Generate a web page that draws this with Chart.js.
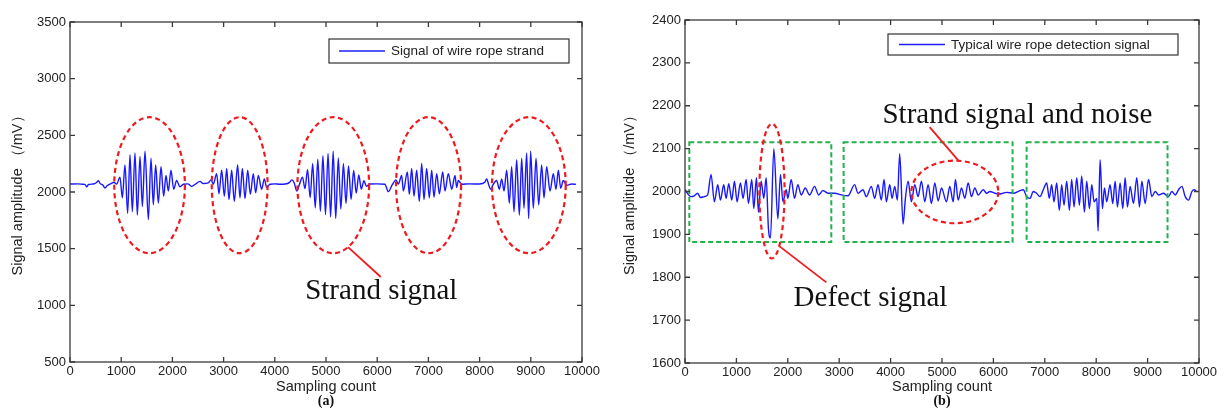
<!DOCTYPE html>
<html><head><meta charset="utf-8">
<script src="https://cdn.jsdelivr.net/npm/chart.js@4.4.1/dist/chart.umd.min.js"></script>
<style>
html,body{margin:0;padding:0;background:#fff;}
#wrap{position:relative;width:1224px;height:408px;overflow:hidden;background:#fff;}
#ca{position:absolute;left:0;top:0;}
#cb{position:absolute;left:612px;top:0;}
</style></head><body>
<div id="wrap">
<canvas id="ca" width="612" height="408"></canvas>
<canvas id="cb" width="612" height="408"></canvas>
</div>
<script>
// ---------- data ----------
const xTicks = [0,1000,2000,3000,4000,5000,6000,7000,8000,9000,10000];
const aTicks = [500,1000,1500,2000,2500,3000,3500];
const bTicks = [1600,1700,1800,1900,2000,2100,2200,2300,2400];
const aLabel = 'Signal of wire rope strand';
const bLabel = 'Typical wire rope detection signal';
const xTitle = 'Sampling count';
const yTitle = 'Signal amplitude （/mV）';

const aSamples = [0,150,250,300,326,360,450,520,553,590,640,683,730,800,860,910,
 977,1022,1074,1126,1172,1217,1269,1315,1367,1413,1465,1530,1582,1627,1673,1725,1777,1829,1875,1920,1972,2025,2083,2148,2213,
 2300,2373,2450,2539,2600,2700,2755,2800,
 2864,2910,2962,3014,3060,3105,3157,3209,3274,3320,3366,3418,3470,3522,3580,3626,3678,3743,3795,3841,3906,
 4000,4100,4200,4290,4330,4380,4427,4480,
 4540,4590,4640,4690,4740,4790,4840,4890,4940,4990,5040,5090,5140,5190,5240,5290,5340,5390,5440,5490,5540,5590,5640,5690,5740,5790,
 5850,6000,6150,6218,6290,6367,6413,
 6478,6511,6589,6628,6673,6719,6771,6823,6869,6914,6966,7018,7064,7109,7162,7214,7279,7324,7389,7455,7520,7552,7585,7650,
 7800,8000,8100,8138,8180,8216,8260,
 8333,8385,8431,8477,8529,8581,8626,8672,8724,8776,8822,8867,8919,8958,8997,9049,9102,9154,9212,9258,9310,9375,9440,9492,9538,9583,9635,9700,
 9800,9880];
const aValues = [2070,2072,2068,2064,2045,2066,2070,2084,2100,2074,2062,2035,2058,2074,2086,2070,
 2131,1948,2238,1811,2329,1826,2345,1796,2314,1872,2360,1756,2299,1887,2238,1902,2223,1963,2146,2009,2192,2024,2101,2046,2068,
 2072,2050,2070,2094,2075,2080,2107,2070,
 2162,1985,2192,1963,2207,1933,2192,1918,2238,1948,2207,1942,2192,1979,2162,1994,2146,2024,2116,2040,2068,
 2072,2068,2070,2085,2107,2080,2009,2065,
 2131,2030,2200,1950,2250,1860,2290,1830,2320,1800,2340,1780,2360,1765,2300,1850,2250,1900,2230,1935,2190,1990,2150,2025,2100,2050,
 2070,2072,2068,2003,2060,2107,2070,
 2146,2009,2177,1979,2207,1963,2192,1918,2253,1933,2207,1948,2192,1954,2162,1985,2177,2009,2162,2024,2146,2040,2101,2068,
 2072,2070,2085,2116,2060,2024,2062,
 2101,2024,2116,2009,2192,1902,2223,1826,2284,1796,2299,1857,2345,1765,2360,1857,2299,1887,2238,1948,2223,2009,2162,2024,2192,2033,2101,2060,
 2070,2068];

const bSamples = [0,117,180,247,300,377,440,507,572,637,689,754,799,851,910,962,1013,1078,1130,1189,1234,1299,1338,1390,1429,1481,1533,1579,
 1624,1663,1728,1806,1858,1904,1969,2001,2066,2131,2196,2261,2339,2423,2521,2599,2683,2781,2911,3041,3171,
 3300,3365,3463,3528,3625,3690,3755,3820,3872,3918,3983,4028,4080,4132,4177,4243,4288,4340,4405,4470,4535,4600,4665,4730,4795,4860,4925,4990,
 5087,5152,5217,5262,5314,5379,5444,5509,5574,5639,5704,5802,5867,5932,6029,6126,6256,6386,6516,6581,6646,6711,6776,6841,6906,6971,
 7036,7088,7133,7179,7231,7283,7328,7374,7426,7478,7523,7569,7621,7673,7718,7770,7816,7868,7913,7959,8011,8037,8076,8121,8160,8205,
 8270,8322,8368,8413,8465,8517,8563,8608,8660,8725,8790,8842,8888,8953,9018,9083,9148,9213,9310,9407,9472,9537,9602,9667,9732,9797,9862,9908,9947];
const bValues = [2004,1988,1990,1996,1986,1988,1992,2040,1976,2016,1980,2016,1984,2018,1980,2024,1976,2020,1984,2028,1972,2028,1960,2032,1952,2024,1984,2032,
 1912,1892,2100,1936,2040,1976,2004,1984,2028,1984,2016,1992,2008,1992,2012,1992,2002,1996,1996,1992,1990,
 2016,1996,2004,1988,2012,1984,2016,1980,2028,1976,2016,1984,2012,1980,2088,1924,1984,2024,1976,2016,1988,2024,1976,2016,1972,2020,1978,2008,
 1976,2012,1976,2028,1980,2008,1984,2020,1988,2008,1992,2004,1996,2000,1996,1994,1998,1996,2002,2004,1988,1984,2000,1996,1988,2004,
 2020,1984,2016,1976,2020,1956,2016,1968,2024,1956,2028,1964,2032,1968,2036,1952,2024,1960,2016,1976,1984,1908,2074,1960,2008,1976,
 2016,1972,2024,1964,2020,1960,2032,1964,2012,1972,2032,1964,2024,1972,2028,1988,2000,1992,1996,1988,2000,1992,2004,2012,1988,1980,2000,2004,2000];

// annotations (data coordinates)
const aEllipseX = [1554,3314,5142,7003,8962];
const aEllipseRX = [690,545,700,635,720];
const aEllipseY = 2060, aEllipseRY = 600;
const aPointer = [[5430,1513],[6070,1250]];
const aNote = {text:'Strand signal', x:6080, y:1120};

const bBoxes = [[84,2846],[3086,6373],[6646,9388]];
const bBoxY = [1882,2115];
const bEllipses = [[1692,2001,245,157],[5250,1999,845,73]];
const bPointers = [[[1840,1872],[2750,1788]],[[4760,2150],[5320,2072]]];
const bNotes = [{text:'Defect signal', x:3609, y:1750},{text:'Strand signal and noise', x:6467, y:2177}];

// ---------- drawing helpers ----------
function deco(cfg){
  return {
    id:'deco',
    afterDatasetsDraw(chart){
      const {ctx, chartArea:ca, scales:{x,y}} = chart;
      ctx.save();
      ctx.lineCap='butt';
      if (cfg.boxes){
        ctx.strokeStyle='#22b04a'; ctx.lineWidth=2; ctx.setLineDash([5,3]);
        cfg.boxes.forEach(b=>{
          const x0=x.getPixelForValue(b[0]), x1=x.getPixelForValue(b[1]);
          const y0=y.getPixelForValue(cfg.boxY[1]), y1=y.getPixelForValue(cfg.boxY[0]);
          ctx.strokeRect(x0,y0,x1-x0,y1-y0);
        });
      }
      ctx.strokeStyle='#f01a1e'; ctx.lineWidth=2.2; ctx.setLineDash([5,3.5]);
      cfg.ellipses.forEach(e=>{
        const px=x.getPixelForValue(e[0]), py=y.getPixelForValue(e[1]);
        const rx=Math.abs(x.getPixelForValue(e[0]+e[2])-px), ry=Math.abs(y.getPixelForValue(e[1]+e[3])-py);
        ctx.beginPath(); ctx.ellipse(px,py,rx,ry,0,0,Math.PI*2); ctx.stroke();
      });
      ctx.setLineDash([]); ctx.lineWidth=1.8;
      cfg.pointers.forEach(p=>{
        ctx.beginPath();
        ctx.moveTo(x.getPixelForValue(p[0][0]), y.getPixelForValue(p[0][1]));
        ctx.lineTo(x.getPixelForValue(p[1][0]), y.getPixelForValue(p[1][1]));
        ctx.stroke();
      });
      ctx.fillStyle='#111'; ctx.font='29px "Liberation Serif", "Times New Roman", serif';
      ctx.textAlign='center'; ctx.textBaseline='middle';
      cfg.notes.forEach(n=>ctx.fillText(n.text, x.getPixelForValue(n.x), y.getPixelForValue(n.y)));
      // frame
      ctx.strokeStyle='#3a3a3a'; ctx.lineWidth=1.3;
      ctx.strokeRect(ca.left, ca.top, ca.right-ca.left, ca.bottom-ca.top);
      ctx.beginPath();
      x.ticks.forEach(t=>{const p=x.getPixelForValue(t.value);
        ctx.moveTo(p,ca.bottom); ctx.lineTo(p,ca.bottom-5); ctx.moveTo(p,ca.top); ctx.lineTo(p,ca.top+5);});
      y.ticks.forEach(t=>{const p=y.getPixelForValue(t.value);
        ctx.moveTo(ca.left,p); ctx.lineTo(ca.left+5,p); ctx.moveTo(ca.right,p); ctx.lineTo(ca.right-5,p);});
      ctx.stroke();
      // legend
      const L=cfg.legend;
      ctx.fillStyle='#fff'; ctx.fillRect(L.x0,L.y0,L.x1-L.x0,L.y1-L.y0);
      ctx.strokeStyle='#333'; ctx.lineWidth=1.2; ctx.strokeRect(L.x0,L.y0,L.x1-L.x0,L.y1-L.y0);
      const ly=(L.y0+L.y1)/2;
      ctx.strokeStyle='#1e1eff'; ctx.lineWidth=1.3; ctx.beginPath(); ctx.moveTo(L.lx0,ly); ctx.lineTo(L.lx1,ly); ctx.stroke();
      ctx.fillStyle='#222'; ctx.font='13.5px "Liberation Sans", Arial, sans-serif'; ctx.textAlign='left';
      ctx.fillText(chart.data.datasets[0].label, L.tx, ly+0.5);
      // panel label
      ctx.font='bold 14px "Liberation Serif", serif'; ctx.textAlign='center'; ctx.fillStyle='#111';
      ctx.fillText(cfg.panel, (ca.left+ca.right)/2, 401);
      ctx.restore();
    }
  };
}

function makeChart(id, samples, values, yT, label, lay, cfg){
  const pts = samples.map((s,i)=>({x:s,y:values[i]}));
  const tickFont={family:'"Liberation Sans", Arial, sans-serif', size:13};
  const titleFont={family:'"Liberation Sans", Arial, sans-serif', size:14.5};
  return new Chart(document.getElementById(id), {
    type:'line',
    data:{datasets:[{label, data:pts, borderColor:'#1818ff', borderWidth:1.4, pointRadius:0, cubicInterpolationMode:'monotone', fill:false}]},
    options:{
      responsive:false, animation:false, devicePixelRatio:1,
      layout:{padding:{left:0,right:lay.right,top:lay.top,bottom:0}},
      plugins:{legend:{display:false}, tooltip:{enabled:false}},
      scales:{
        x:{type:'linear', min:0, max:10000,
          afterBuildTicks:s=>{s.ticks=xTicks.map(v=>({value:v}));},
          afterFit:s=>{s.height=408-lay.bottom;},
          grid:{display:false, drawTicks:false}, border:{display:false},
          ticks:{autoSkip:false, maxRotation:0, padding:2, color:'#222', font:tickFont, callback:v=>String(v)},
          title:{display:true, text:xTitle, color:'#222', font:titleFont, padding:{top:0,bottom:12}}},
        y:{type:'linear', min:yT[0], max:yT[yT.length-1],
          afterBuildTicks:s=>{s.ticks=yT.map(v=>({value:v}));},
          afterFit:s=>{s.width=lay.left;},
          grid:{display:false, drawTicks:false}, border:{display:false},
          ticks:{autoSkip:false, padding:4, color:'#222', font:tickFont, callback:v=>String(v)},
          title:{display:true, text:yTitle, color:'#222', font:titleFont, padding:{top:9,bottom:0}}}
      }
    },
    plugins:[deco(cfg)]
  });
}

makeChart('ca', aSamples, aValues, aTicks, aLabel, {left:70,right:30,top:22,bottom:362}, {
  ellipses:aEllipseX.map((cx,i)=>[cx,aEllipseY,aEllipseRX[i],aEllipseRY]),
  pointers:[aPointer], notes:[aNote], panel:'(a)',
  legend:{x0:329,x1:569,y0:39,y1:63,lx0:339,lx1:385,tx:391}
});
makeChart('cb', bSamples, bValues, bTicks, bLabel, {left:73,right:25,top:20,bottom:363}, {
  boxes:bBoxes, boxY:bBoxY, ellipses:bEllipses, pointers:bPointers, notes:bNotes, panel:'(b)',
  legend:{x0:276,x1:566,y0:34,y1:55,lx0:287,lx1:333,tx:339}
});
</script>
</body></html>
